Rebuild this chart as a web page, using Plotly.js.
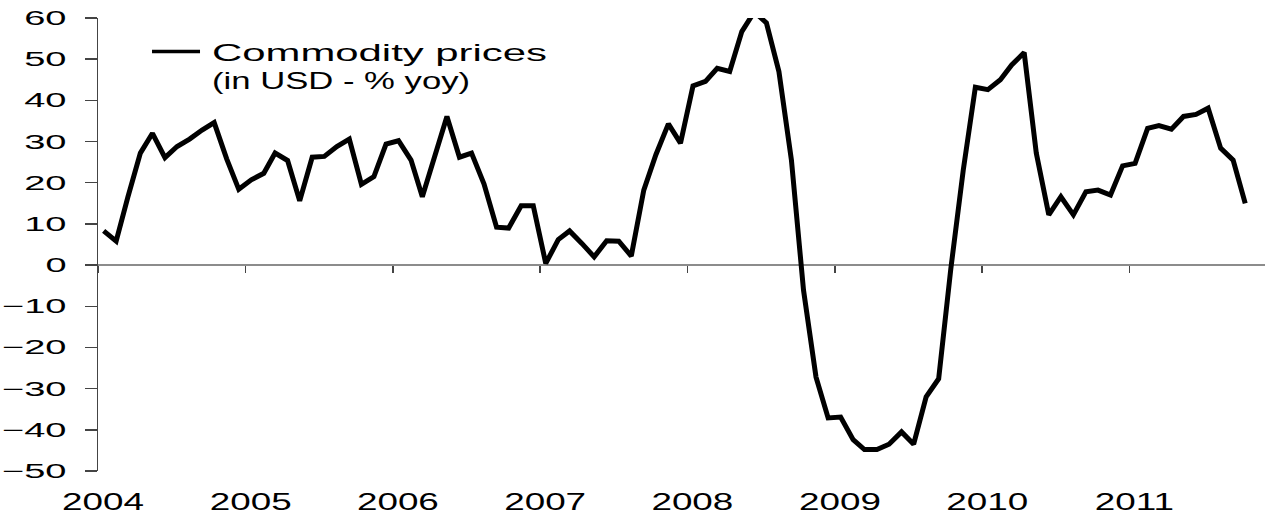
<!DOCTYPE html>
<html>
<head>
<meta charset="utf-8">
<script src="https://cdn.plot.ly/plotly-3.0.1.min.js"></script>
<style>
  html, body { margin: 0; padding: 0; background: #ffffff; }
  #chart { width: 1265px; height: 515px; }
</style>
</head>
<body>
<div id="chart"></div>
<script>
// Commodity prices, in USD, % year-on-year, monthly Jan 2004 - Oct 2011
const startYear = 2004;
const values2004 = [8.3, 5.8, 16.5, 27.2, 32.0, 26.1, 28.8, 30.6, 32.8, 34.6, 25.8, 18.4];
const values2005 = [20.7, 22.3, 27.2, 25.4, 15.6, 26.2, 26.4, 28.8, 30.6, 19.6, 21.5, 29.4];
const values2006 = [30.2, 25.5, 16.6, 26.9, 36.1, 26.2, 27.2, 19.7, 9.2, 9.0, 14.4, 14.4];
const values2007 = [0.4, 6.2, 8.3, 5.2, 2.0, 5.9, 5.8, 2.2, 18.2, 26.8, 34.3, 29.6];
const values2008 = [43.5, 44.6, 47.8, 47.0, 56.7, 61.5, 58.8, 47.0, 25.5, -6.1, -27.2, -37.1];
const values2009 = [-36.9, -42.4, -44.8, -44.8, -43.5, -40.5, -43.5, -32.0, -27.6, -1.0, 23.1, 43.2];
const values2010 = [42.6, 45.0, 48.6, 51.6, 27.2, 12.2, 16.6, 12.2, 17.8, 18.2, 17.0, 24.1];
const values2011 = [24.7, 33.2, 33.9, 33.0, 36.1, 36.6, 38.1, 28.4, 25.5, 15.0];

const yearTickLabels = ['2004', '2005', '2006', '2007', '2008', '2009', '2010', '2011'];
const seriesName = 'Commodity prices<br>(in USD - % yoy)';

const values = [].concat(values2004, values2005, values2006, values2007,
                         values2008, values2009, values2010, values2011);
// monthly observation dates (mid-month)
const dates = values.map((v, i) => {
  const y = startYear + Math.floor(i / 12);
  const m = (i % 12) + 1;
  return y + '-' + String(m).padStart(2, '0') + '-15';
});
const yearTickVals = yearTickLabels.map(y => y + '-01-01');

const xRange = ['2004-01-01', '2011-12-03'];
const fontFam = '"Liberation Sans", Arial, Helvetica, sans-serif';

const trace = {
  type: 'scatter',
  mode: 'lines',
  x: dates,
  y: values,
  name: seriesName,
  line: { color: '#000000', width: 5 },
  xaxis: 'x',
  yaxis: 'y',
  hoverinfo: 'x+y'
};
// empty helper trace so that the zero-crossing axis (x2) gets drawn
const axisHelper = {
  type: 'scatter',
  mode: 'lines',
  x: [],
  y: [],
  xaxis: 'x2',
  yaxis: 'y',
  showlegend: false,
  hoverinfo: 'skip'
};

const layout = {
  width: 1265,
  height: 515,
  margin: { l: 98, r: 0, t: 18, b: 44, pad: 0, autoexpand: false },
  paper_bgcolor: '#ffffff',
  plot_bgcolor: 'rgba(0,0,0,0)',
  font: { family: fontFam, color: '#000000' },
  showlegend: true,
  legend: {
    x: 0.042, y: 0.975,
    xanchor: 'left', yanchor: 'top',
    bgcolor: 'rgba(0,0,0,0)',
    borderwidth: 0,
    valign: 'top',
    itemwidth: 55,
    font: { size: 24, family: fontFam, color: '#000000' }
  },
  xaxis: {
    type: 'date',
    range: xRange,
    tickmode: 'array',
    tickvals: yearTickVals,
    ticktext: yearTickLabels,
    ticks: '',
    showline: false,
    showgrid: false,
    zeroline: false,
    automargin: false,
    tickfont: { size: 23, family: fontFam, color: '#000000' },
    ticklabelshift: 5,
    ticklabelstandoff: 15,
    fixedrange: true
  },
  xaxis2: {
    type: 'date',
    overlaying: 'x',
    anchor: 'free',
    position: 50 / 110,
    range: xRange,
    tickmode: 'array',
    tickvals: yearTickVals,
    ticks: 'outside',
    ticklen: 7,
    tickwidth: 1.5,
    tickcolor: '#444444',
    showline: true,
    linecolor: '#8c8c8c',
    linewidth: 2,
    showticklabels: false,
    showgrid: false,
    zeroline: false,
    automargin: false,
    layer: 'below traces',
    fixedrange: true
  },
  yaxis: {
    range: [-50, 60],
    tickmode: 'linear',
    tick0: 0,
    dtick: 10,
    ticks: 'outside',
    ticklen: 12,
    tickwidth: 1.5,
    tickcolor: '#444444',
    showline: true,
    linecolor: '#444444',
    linewidth: 1.5,
    showgrid: false,
    zeroline: false,
    automargin: false,
    tickfont: { size: 20, family: fontFam, color: '#000000' },
    ticklabelstandoff: 14,
    fixedrange: true
  }
};

const gd = document.getElementById('chart');
Plotly.newPlot(gd, [trace, axisHelper], layout, { displayModeBar: false, staticPlot: true }).then(() => {
  // the reference uses a horizontally wide typeface: widen glyphs, keep real text
  const widen = (el, f) => {
    const w = el.getComputedTextLength();
    if (w > 0) {
      el.setAttribute('textLength', (w * f).toFixed(1));
      el.setAttribute('lengthAdjust', 'spacingAndGlyphs');
    }
  };
  gd.querySelectorAll('.ytick text').forEach(t => widen(t, 1.9));
  gd.querySelectorAll('.xtick text').forEach(t => widen(t, 1.6));

  // legend: no clipping of the widened text
  gd.querySelectorAll('.legend [clip-path], .legend [clip-path] *').forEach(el => {
    if (el.hasAttribute('clip-path')) el.removeAttribute('clip-path');
  });
  const lines = gd.querySelectorAll('.legendtext tspan.line');
  const targets = [335, 258];
  lines.forEach((ln, i) => {
    const w = ln.getComputedTextLength();
    if (w > 0 && targets[i]) {
      ln.setAttribute('textLength', targets[i]);
      ln.setAttribute('lengthAdjust', 'spacingAndGlyphs');
    }
    if (i === 1) {
      const dy = ln.getAttribute('dy');
      if (dy && dy.indexOf('em') > 0) {
        ln.setAttribute('dy', (parseFloat(dy) - 0.12).toFixed(2) + 'em');
      }
    }
  });
  gd.querySelectorAll('.legend .legendlines path').forEach(p => {
    p.setAttribute('d', 'M5,0h48');
    p.style.strokeWidth = '3.5px';
  });
});
</script>
</body>
</html>
